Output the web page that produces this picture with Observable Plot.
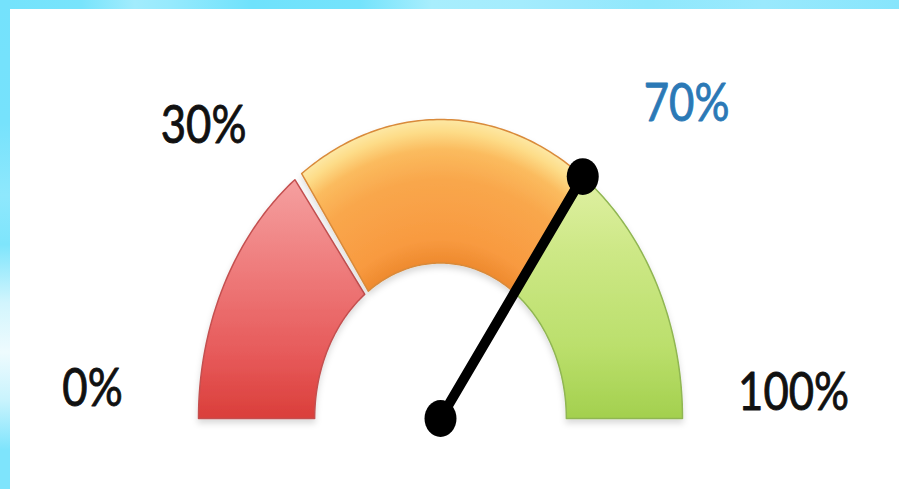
<!DOCTYPE html>
<html><head><meta charset="utf-8">
<script src="https://cdn.jsdelivr.net/npm/d3@7"></script>
<script src="https://cdn.jsdelivr.net/npm/@observablehq/plot@0.6"></script>
<style>
html,body{margin:0;padding:0;background:#fff;width:899px;height:489px;overflow:hidden;position:relative}
#topbar{position:absolute;left:0;top:0;width:899px;height:9px;
 background:linear-gradient(to right,#74e3fc 0%,#78e4fc 9%,#a2ecfd 15%,#96eafd 19%,#6fe2fc 28%,#74e3fc 40%,#a8eefd 48%,#a4ecfd 58%,#9ce9fd 64%,#8fe8fc 72%,#9ae9fd 85%,#86e5fc 100%)}
#leftbar{position:absolute;left:0;top:0;width:10px;height:489px;
 background:linear-gradient(to bottom,#74e2fc 0%,#76e2fc 25%,#8ee8fd 40%,#7ee5fc 50%,#d2f5fd 62%,#eefbfe 72%,#c8f3fd 82%,#7ee4fc 92%,#7ee4fc 100%)}
#chart{position:absolute;left:10px;top:9px;width:889px;height:480px}
</style></head><body>
<div id="topbar"></div><div id="leftbar"></div><div id="chart"></div>
<script>
// ---- data ----
const segNames = ["low", "mid", "high"];
const segStart = [0, 30, 70];
const segEnd = [30, 70, 100];
const needleValue = 70;
const labelText = ["0%", "30%", "70%", "100%"];
const labelX = [-1.438, -0.979, 1.017, 1.459];
const labelY = [0.097, 0.977, 1.050, 0.084];
const labelColor = ["#111111", "#111111", "#2b79b6", "#111111"];

// ---- geometry helpers (gauge units: outer radius = 1) ----
const innerR = 0.52;
const gapPct = 0.55;
const ang = p => Math.PI * (1 - p / 100);
function arcPolygon(a, b, name) {
  const pts = [];
  const n = 80;
  for (let i = 0; i <= n; i++) {
    const p = a + (b - a) * i / n;
    pts.push({seg: name, x: Math.cos(ang(p)), y: Math.sin(ang(p))});
  }
  for (let i = n; i >= 0; i--) {
    const p = a + (b - a) * i / n;
    pts.push({seg: name, x: innerR * Math.cos(ang(p)), y: innerR * Math.sin(ang(p))});
  }
  return pts;
}
const arcs = segNames.map((s, i) =>
  arcPolygon(segStart[i] + (i > 0 ? gapPct : 0), segEnd[i] - (i < segNames.length - 1 ? gapPct : 0), s));
const needle = [
  {x: 0, y: 0},
  {x: Math.cos(ang(needleValue)), y: Math.sin(ang(needleValue))}
];
const labels = labelText.map((t, i) => ({t, x: labelX[i], y: labelY[i], c: labelColor[i]}));

const fills = ["url(#gRed)", "url(#gOrange)", "url(#gGreen)"];
const strokes = ["#c45050", "#d98a3a", "#90b652"];

const W = 889, H = 480;
const plot = Plot.plot({
  width: W, height: H, margin: 0,
  x: {domain: [-430 / 242, (W - 430) / 242], axis: null},
  y: {domain: [-(H - 409) / 299, 409 / 299], axis: null},
  color: {type: "identity"},
  style: {background: "transparent", overflow: "visible"},
  marks: [
    ...arcs.map((a, i) => Plot.line(a, {x: "x", y: "y", curve: "linear-closed",
      fill: fills[i], stroke: strokes[i], strokeWidth: 1.5})),
    Plot.line(needle, {x: "x", y: "y", stroke: "#000", strokeWidth: 10}),
    Plot.dot(needle, {x: "x", y: "y", r: 16, fill: "#000", stroke: null}),
    Plot.text(labels, {x: "x", y: "y", text: "t", fill: "c", stroke: "c", strokeWidth: 0.9,
      fontSize: 52, fontFamily: "Lato, 'Open Sans', sans-serif"})
  ]
});

// narrow the label glyphs (Calibri-like proportions)
plot.querySelectorAll("text").forEach(t => {
  const tr = t.getAttribute("transform");
  if (tr) t.setAttribute("transform", tr + " scale(0.84,1)");
  else {
    const x = +t.getAttribute("x") || 0, y = +t.getAttribute("y") || 0;
    t.removeAttribute("x"); t.removeAttribute("y");
    t.setAttribute("transform", `translate(${x},${y}) scale(0.84,1)`);
  }
});

// needle knobs: slightly taller than wide, as in the reference
plot.querySelectorAll("circle").forEach(c => {
  const x = c.getAttribute("cx"), y = c.getAttribute("cy");
  c.setAttribute("transform", `translate(${x},${y}) scale(1,1.15) translate(${-x},${-y})`);
});

// soft shadow under the gauge segments
plot.querySelectorAll("path").forEach(p => {
  if ((p.getAttribute("fill") || "").startsWith("url(")) p.setAttribute("filter", "url(#shadow)");
});
plot.querySelectorAll("g[aria-label='line']").forEach(g => {
  const f = g.getAttribute("fill");
  if (f && f.startsWith("url(")) g.setAttribute("filter", "url(#shadow)");
});

const sx = plot.scale("x"), sy = plot.scale("y");
const cx = sx.apply(0), cy = sy.apply(0);
const rx = sx.apply(1) - cx, ry = cy - sy.apply(1);
const k = ry / rx;
const tf = `translate(${cx},${cy}) scale(1,${k}) translate(${-cx},${-cy})`;
const defs = `
<defs>
 <filter id="shadow" x="-10%" y="-10%" width="120%" height="125%">
  <feDropShadow dx="0" dy="4" stdDeviation="3" flood-color="#000" flood-opacity="0.15"/>
 </filter>
 <linearGradient id="gRed" x1="0" y1="0" x2="0" y2="1">
  <stop offset="0" stop-color="#f5a0a0"/>
  <stop offset="0.35" stop-color="#ef7e7e"/>
  <stop offset="0.75" stop-color="#e65858"/>
  <stop offset="1" stop-color="#da3e3a"/>
 </linearGradient>
 <radialGradient id="gOrange" gradientUnits="userSpaceOnUse" cx="${cx}" cy="${cy}" r="${rx}" gradientTransform="${tf}">
  <stop offset="0.52" stop-color="#ee8a2e"/>
  <stop offset="0.6" stop-color="#f89a40"/>
  <stop offset="0.8" stop-color="#f9a74c"/>
  <stop offset="0.9" stop-color="#fbbb5e"/>
  <stop offset="0.96" stop-color="#fddc88"/>
  <stop offset="1" stop-color="#fde8a4"/>
 </radialGradient>
 <linearGradient id="gGreen" x1="0" y1="0" x2="0" y2="1">
  <stop offset="0" stop-color="#dff0a2"/>
  <stop offset="0.3" stop-color="#cde886"/>
  <stop offset="0.7" stop-color="#bbdf6c"/>
  <stop offset="1" stop-color="#a3d04e"/>
 </linearGradient>
</defs>`;
plot.insertAdjacentHTML("afterbegin", defs);
document.getElementById("chart").appendChild(plot);
</script>
</body></html>
